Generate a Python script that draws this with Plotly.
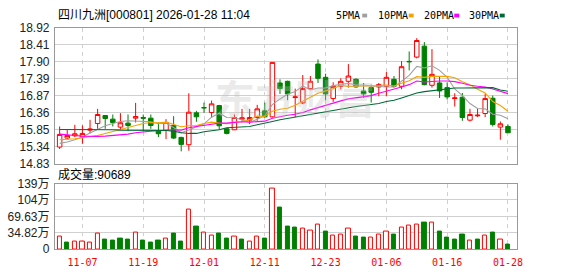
import plotly.graph_objects as go

W, H = 578, 276

dates = ["11-04","11-05","11-06","11-07","11-10","11-11","11-12","11-13","11-14","11-17",
         "11-18","11-19","11-20","11-21","11-24","11-25","11-26","11-27","11-28","12-01",
         "12-02","12-03","12-04","12-05","12-08","12-09","12-10","12-11","12-12","12-15",
         "12-16","12-17","12-18","12-19","12-22","12-23","12-24","12-25","12-26","12-29",
         "12-30","12-31","01-05","01-06","01-07","01-08","01-09","01-12","01-13","01-14",
         "01-15","01-16","01-19","01-20","01-21","01-22","01-23","01-26","01-27","01-28"]

opens = [15.33,15.60,15.67,15.63,15.84,16.04,16.28,16.17,15.93,16.05,
         16.20,16.22,16.20,15.81,15.84,15.98,15.62,15.40,16.36,16.52,
         16.37,16.58,15.88,15.85,16.17,16.14,16.22,16.42,16.24,17.26,
         17.31,16.82,16.66,17.09,17.83,17.43,16.79,17.16,17.31,17.37,
         17.02,17.12,17.14,17.16,17.37,17.16,17.91,18.04,18.37,17.19,
         17.26,17.12,16.79,16.83,16.14,16.27,16.34,16.80,15.93,15.95]
highs = [15.95,15.84,16.00,15.98,16.15,16.48,16.29,16.31,16.35,16.31,
         16.66,16.31,16.31,16.07,16.17,16.26,15.64,16.95,16.42,16.67,
         16.73,16.60,15.91,16.31,16.48,16.48,16.60,16.67,17.88,17.37,
         17.33,17.09,17.50,17.47,17.97,17.54,17.28,17.40,17.83,17.40,
         17.26,17.21,17.26,17.59,17.47,17.92,18.21,18.61,18.49,18.28,
         17.45,17.28,16.95,16.96,16.48,16.48,16.93,16.88,16.10,16.01]
lows = [15.27,15.55,15.63,15.43,15.74,15.88,15.88,15.95,15.84,15.81,
        16.07,15.80,15.88,15.63,15.57,15.57,15.20,15.22,16.09,16.36,
        16.22,15.85,15.71,15.84,16.12,16.02,16.12,16.22,16.22,16.93,
        16.74,16.23,16.62,17.07,17.26,16.74,16.69,17.07,17.12,17.12,
        16.81,16.67,16.86,16.86,17.12,17.07,17.64,18.00,17.19,17.12,
        16.81,16.76,16.55,16.12,16.10,16.23,16.23,15.95,15.55,15.76]
closes = [15.71,15.68,15.73,15.74,15.87,16.31,16.19,16.07,16.06,15.98,
          16.25,16.20,15.98,15.73,16.07,15.60,15.41,16.38,16.24,16.51,
          16.63,15.97,15.74,16.22,16.21,16.22,16.48,16.24,17.88,17.09,
          16.93,16.84,17.09,17.31,17.40,16.93,17.16,17.31,17.47,17.14,
          16.93,16.98,17.21,17.43,17.16,17.75,17.90,18.54,17.21,17.52,
          17.02,16.84,16.81,16.22,16.31,16.29,16.79,16.01,16.03,15.76]

ma5 = [15.44,15.48,15.55,15.63,15.75,15.87,15.97,16.04,16.10,16.12,
       16.11,16.11,16.09,16.03,16.05,15.92,15.76,15.84,15.94,16.03,
       16.23,16.35,16.22,16.21,16.15,16.07,16.17,16.27,16.61,16.78,
       16.92,17.00,17.17,17.05,17.11,17.11,17.18,17.22,17.25,17.20,
       17.20,17.17,17.15,17.14,17.14,17.31,17.49,17.76,17.71,17.78,
       17.64,17.43,17.08,16.88,16.64,16.49,16.48,16.32,16.29,16.18]
ma10 = [15.55,15.56,15.58,15.61,15.64,15.68,15.74,15.80,15.88,15.93,
        15.99,16.04,16.07,16.06,16.08,16.01,15.94,15.97,15.98,16.04,
        16.08,16.05,16.03,16.08,16.09,16.15,16.26,16.25,16.41,16.47,
        16.50,16.59,16.72,16.83,16.95,17.02,17.09,17.19,17.15,17.16,
        17.16,17.17,17.18,17.20,17.17,17.25,17.33,17.45,17.43,17.46,
        17.47,17.46,17.42,17.30,17.21,17.07,16.96,16.70,16.58,16.41]
ma20 = [15.72,15.71,15.68,15.66,15.65,15.65,15.66,15.68,15.69,15.72,
        15.76,15.79,15.81,15.82,15.84,15.85,15.84,15.91,15.95,15.99,
        16.03,16.05,16.05,16.07,16.09,16.08,16.10,16.11,16.20,16.25,
        16.29,16.32,16.37,16.45,16.52,16.59,16.67,16.72,16.78,16.81,
        16.83,16.88,16.95,17.01,17.06,17.14,17.21,17.32,17.29,17.31,
        17.32,17.32,17.30,17.25,17.19,17.16,17.14,17.08,17.01,16.94]
ma30 = [15.86,15.86,15.86,15.86,15.87,15.87,15.85,15.85,15.84,15.84,
        15.84,15.84,15.84,15.84,15.83,15.81,15.76,15.74,15.74,15.79,
        15.81,15.85,15.91,15.93,15.93,15.95,16.00,16.04,16.10,16.15,
        16.19,16.23,16.27,16.32,16.37,16.40,16.43,16.47,16.52,16.55,
        16.58,16.60,16.64,16.70,16.74,16.81,16.89,16.96,17.00,17.03,
        17.04,17.07,17.11,17.11,17.11,17.11,17.12,17.12,17.05,17.01]

volumes = [27.2,13.6,15.6,15.6,12.9,33.3,19.7,17.7,21.7,19.7,
           35.3,17.7,13.6,17.7,23.1,34.0,15.6,84.2,48.2,35.3,
           29.2,34.0,21.7,27.2,21.1,17.0,27.2,21.7,129.1,89.0,
           48.2,46.2,43.5,39.4,51.6,38.0,29.2,31.2,43.5,25.8,
           23.8,25.1,31.2,37.4,29.9,45.5,49.6,51.6,56.4,56.4,
           38.0,23.8,19.7,31.9,19.0,19.7,29.2,36.0,21.1,9.07]

x_tick_labels = ["11-07","11-19","12-01","12-11","12-23","01-06","01-16","01-28"]
price_ticks = [14.83,15.34,15.85,16.36,16.87,17.39,17.90,18.41,18.92]
vol_ticks = [0,34.82,69.63,104.45,139.26]
vol_tick_labels = ["0","34.82万","69.63万","104万","139万"]

title_text = "四川九洲[000801] 2026-01-28 11:04"
vol_title = "成交量:90689"
ma_names = ["5PMA","10PMA","20PMA","30PMA"]

RED = "#ff0000"
GREEN = "#008000"
MA_COLORS = ["#a0a0a0", "#f5a300", "#ff00ff", "#006a35"]
GRID = "#d0d0d0"
BORDER = "#999999"

# pixel geometry
px_l, px_r = 55.5, 522.5
p_top, p_bot = 22, 165
v_top, v_bot = 186, 255

def fx(px):
    return px / W

def fy(py):
    return 1 - py / H

xdom = [fx(px_l), fx(px_r)]
xrange_ = [-0.62, len(dates) - 1 + 1.2]

fig = go.Figure()

fig.add_trace(go.Candlestick(
    x=dates, open=opens, high=highs, low=lows, close=closes,
    xaxis="x", yaxis="y",
    increasing=dict(line=dict(color=RED, width=1), fillcolor="#ffffff"),
    decreasing=dict(line=dict(color=GREEN, width=1), fillcolor=GREEN),
    whiskerwidth=0, showlegend=False, hoverinfo="skip",
))

for vals, col in zip([ma5, ma10, ma20, ma30], MA_COLORS):
    fig.add_trace(go.Scatter(
        x=dates, y=vals, mode="lines", xaxis="x", yaxis="y",
        line=dict(color=col, width=1.1), showlegend=False, hoverinfo="skip",
    ))

vol_up = [True] + [closes[i] >= closes[i - 1] for i in range(1, len(closes))]
fig.add_trace(go.Bar(
    x=dates, y=volumes, xaxis="x2", yaxis="y2", width=0.56,
    marker=dict(color=["#ffffff" if u else GREEN for u in vol_up],
                line=dict(color=[RED if u else GREEN for u in vol_up], width=1)),
    showlegend=False, hoverinfo="skip",
))

axis_common = dict(showline=True, mirror=True, linecolor=BORDER, linewidth=1,
                   zeroline=False, fixedrange=True)

fig.update_layout(
    width=W, height=H, autosize=False,
    margin=dict(l=0, r=0, t=0, b=0),
    paper_bgcolor="#ffffff", plot_bgcolor="#ffffff",
    boxgap=0.41, boxgroupgap=0,
    bargap=0,
    xaxis=dict(domain=xdom, type="category", range=xrange_, anchor="y",
               tickvals=x_tick_labels, showticklabels=False, ticks="",
               showgrid=True, gridcolor=GRID, griddash="4px,4px", gridwidth=1,
               rangeslider=dict(visible=False), **axis_common),
    yaxis=dict(domain=[fy(p_bot), fy(p_top)], range=[price_ticks[0], price_ticks[-1]],
               anchor="x", tickvals=price_ticks,
               ticktext=[f"{v:.2f}" for v in price_ticks],
               tickfont=dict(family="Liberation Sans, Arial", size=12, color="#222222"),
               ticks="", ticklabelstandoff=2,
               showgrid=True, gridcolor=GRID, gridwidth=1, **axis_common),
    xaxis2=dict(domain=xdom, type="category", range=xrange_, anchor="y2",
                tickvals=x_tick_labels, ticktext=x_tick_labels, ticks="",
                tickfont=dict(family="DejaVu Sans Mono", size=10, color=RED),
                ticklabelstandoff=4,
                showgrid=True, gridcolor=GRID, griddash="4px,4px", gridwidth=1,
                **axis_common),
    yaxis2=dict(domain=[fy(v_bot), fy(v_top)], range=[vol_ticks[0], vol_ticks[-1]],
                anchor="x2", tickvals=vol_ticks, ticktext=vol_tick_labels,
                tickfont=dict(family="Liberation Sans, Noto Sans CJK SC", size=12, color="#222222"),
                ticks="", ticklabelstandoff=2,
                showgrid=True, gridcolor=GRID, gridwidth=1, **axis_common),
)

annotations = [
    dict(text=title_text, x=fx(57), y=fy(8), xref="paper", yref="paper",
         xanchor="left", yanchor="middle", showarrow=False,
         font=dict(family="Liberation Sans, Noto Sans CJK SC", size=12, color="#000000")),
    dict(text=vol_title, x=fx(57), y=fy(176), xref="paper", yref="paper",
         xanchor="left", yanchor="middle", showarrow=False,
         font=dict(family="Liberation Sans, Noto Sans CJK SC", size=12, color="#000000")),
    dict(text="<b>东方财富</b>", x=fx(298), y=fy(95), xref="paper", yref="paper",
         xanchor="center", yanchor="middle", showarrow=False,
         font=dict(family="Noto Sans CJK SC", size=40, color="rgba(190,190,190,0.32)")),
]

legend_text_x = [338, 380, 426, 472]
legend_sq_x = [366, 413, 459, 505]
shapes = []
for name, tx, sx, col in zip(ma_names, legend_text_x, legend_sq_x, MA_COLORS):
    annotations.append(dict(text=name, x=fx(tx), y=fy(9), xref="paper", yref="paper",
                            xanchor="left", yanchor="middle", showarrow=False,
                            font=dict(family="DejaVu Sans Mono", size=10, color="#000000")))
    shapes.append(dict(type="rect", xref="paper", yref="paper",
                       x0=fx(sx), x1=fx(sx + 5), y0=fy(11), y1=fy(7),
                       fillcolor=col, line=dict(width=0)))

fig.update_layout(annotations=annotations, shapes=shapes)

fig.write_html("out.html")
